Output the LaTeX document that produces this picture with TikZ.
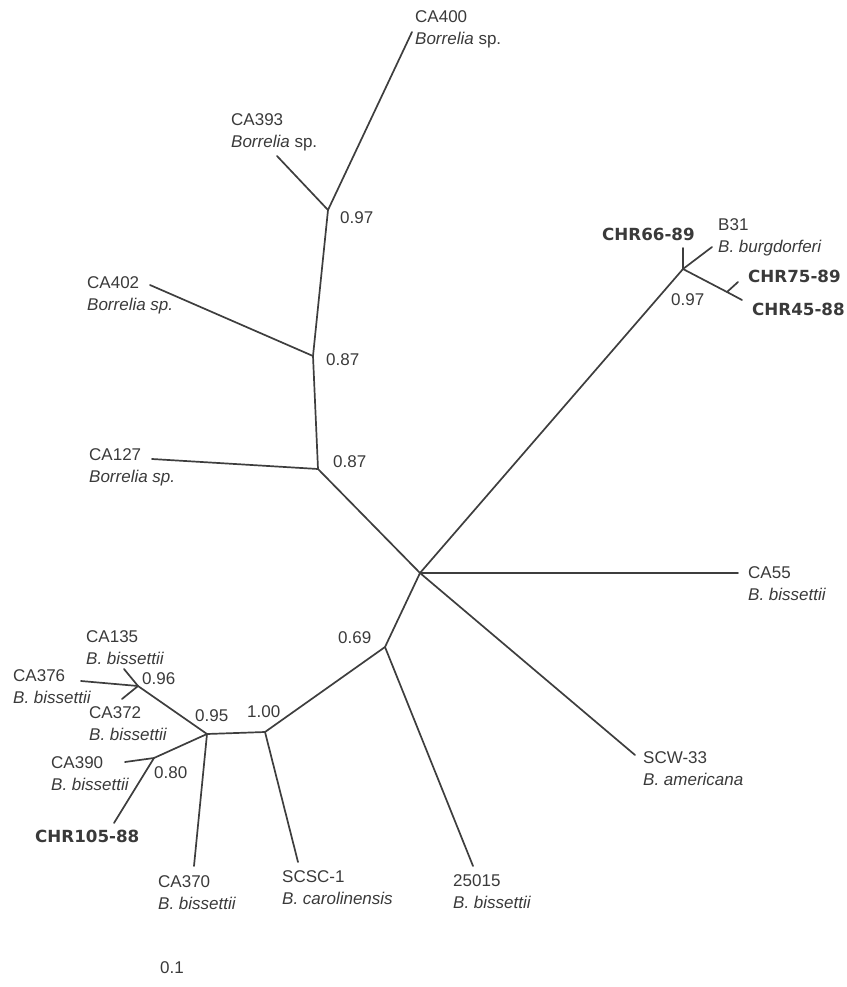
\documentclass[tikz,border=0pt]{standalone}
\usepackage{fontspec}
\setmainfont{Liberation Sans}
\newfontfamily\strainfont{DejaVu Sans}
\usetikzlibrary{positioning}
\definecolor{treeGrey}{RGB}{62,62,62}
\definecolor{labelGrey}{RGB}{58,58,58}

\begin{document}
\begin{tikzpicture}[
  x=1pt, y=-1pt,
  every node/.style={font=\fontsize{17}{22}\selectfont, text=labelGrey, inner sep=0pt},
  branch/.style={draw=treeGrey, line width=1.7pt, line cap=round, line join=round},
  taxon/.style={anchor=base west, align=left, yshift=-22pt},
  isolate/.style={anchor=base west, font=\strainfont\bfseries\fontsize{16.7}{20}\selectfont},
  support/.style={anchor=base west}
]
  \useasboundingbox (0,0) rectangle (846,987);

  % internal nodes
  \coordinate (root) at (420,573);
  \coordinate (bb)   at (683,269);
  \coordinate (bb2)  at (727,292);
  \coordinate (sp1)  at (318,469);
  \coordinate (sp2)  at (313,356);
  \coordinate (sp3)  at (328,210);
  \coordinate (bi1)  at (385,647);
  \coordinate (bi2)  at (265,732);
  \coordinate (bi3)  at (207,734);
  \coordinate (bi4)  at (138,686);
  \coordinate (bi5)  at (154,758);

  % tips
  \coordinate (tCA55)   at (738,573);
  \coordinate (tSCW)    at (635,755);
  \coordinate (tCHR66)  at (683,248);
  \coordinate (tB31)    at (712,247);
  \coordinate (tCHR75)  at (738,282);
  \coordinate (tCHR45)  at (742,300);
  \coordinate (tCA127)  at (152,459);
  \coordinate (tCA402)  at (150,285);
  \coordinate (tCA393)  at (277,156);
  \coordinate (tCA400)  at (412,32);
  \coordinate (t25015)  at (473,866);
  \coordinate (tSCSC)   at (298,862);
  \coordinate (tCA370)  at (194,866);
  \coordinate (tCA135)  at (124,669);
  \coordinate (tCA376)  at (81,681);
  \coordinate (tCA372)  at (122,699);
  \coordinate (tCA390)  at (125,762);
  \coordinate (tCHR105) at (114,823);

  % branches
  \draw[branch] (root) -- (tCA55);
  \draw[branch] (root) -- (tSCW);
  \draw[branch] (root) -- (bb);
  \draw[branch] (bb) -- (tCHR66);
  \draw[branch] (bb) -- (tB31);
  \draw[branch] (bb) -- (bb2) -- (tCHR45);
  \draw[branch] (bb2) -- (tCHR75);
  \draw[branch] (root) -- (sp1) -- (sp2) -- (sp3);
  \draw[branch] (sp1) -- (tCA127);
  \draw[branch] (sp2) -- (tCA402);
  \draw[branch] (sp3) -- (tCA393);
  \draw[branch] (sp3) -- (tCA400);
  \draw[branch] (root) -- (bi1) -- (bi2) -- (bi3) -- (bi4);
  \draw[branch] (bi1) -- (t25015);
  \draw[branch] (bi2) -- (tSCSC);
  \draw[branch] (bi3) -- (tCA370);
  \draw[branch] (bi3) -- (bi5) -- (tCHR105);
  \draw[branch] (bi5) -- (tCA390);
  \draw[branch] (bi4) -- (tCA135);
  \draw[branch] (bi4) -- (tCA376);
  \draw[branch] (bi4) -- (tCA372);

  % taxon labels (first baseline)
  \node[taxon] (lCA400) at (415,23)  {CA400\\\textit{Borrelia} sp.};
  \node[taxon] (lCA393) at (231,126) {CA393\\\textit{Borrelia} sp.};
  \node[taxon] (lCA402) at (87,288)  {CA402\\\textit{Borrelia sp.}};
  \node[taxon] (lCA127) at (89,460)  {CA127\\\textit{Borrelia sp.}};
  \node[taxon] (lB31)   at (718,230) {B31\\\textit{B. burgdorferi}};
  \node[taxon] (lCA55)  at (748,578) {CA55\\\textit{B. bissettii}};
  \node[taxon] (lSCW)   at (643,763) {SCW-33\\\textit{B. americana}};
  \node[taxon] (lCA135) at (86,642)  {CA135\\\textit{B. bissettii}};
  \node[taxon] (lCA376) at (13,681)  {CA376\\\textit{B. bissettii}};
  \node[taxon] (lCA372) at (89,718)  {CA372\\\textit{B. bissettii}};
  \node[taxon] (lCA390) at (51,768)  {CA390\\\textit{B. bissettii}};
  \node[taxon] (lCA370) at (158,887) {CA370\\\textit{B. bissettii}};
  \node[taxon] (lSCSC)  at (282,882) {SCSC-1\\\textit{B. carolinensis}};
  \node[taxon] (l25015) at (453,886) {25015\\\textit{B. bissettii}};

  \node[isolate] (lCHR66)  at (602,240) {CHR66-89};
  \node[isolate] (lCHR75)  at (748,282) {CHR75-89};
  \node[isolate] (lCHR45)  at (752,315) {CHR45-88};
  \node[isolate] (lCHR105) at (35,842)  {CHR105-88};

  % support values
  \node[support] (s97a) at (340,223) {0.97};
  \node[support] (s87a) at (326,365) {0.87};
  \node[support] (s87b) at (333,467) {0.87};
  \node[support] (s97b) at (671,305) {0.97};
  \node[support] (s96)  at (142,684) {0.96};
  \node[support] (s95)  at (195,721) {0.95};
  \node[support] (s100) at (247,717) {1.00};
  \node[support] (s69)  at (338,643) {0.69};
  \node[support] (s80)  at (154,778) {0.80};

  % scale
  \node[support] (scale) at (160,973) {0.1};
\end{tikzpicture}
\end{document}
